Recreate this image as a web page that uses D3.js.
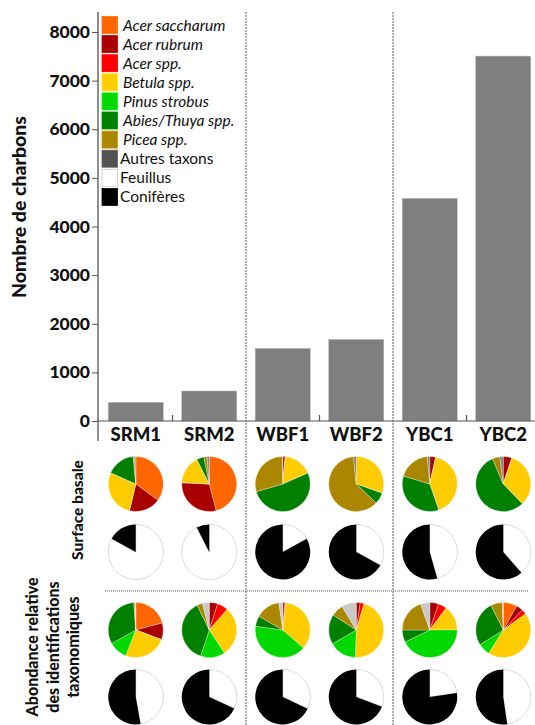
<!DOCTYPE html>
<html lang="fr">
<head>
<meta charset="utf-8">
<script src="https://cdn.jsdelivr.net/npm/d3@7"></script>
<style>
  html, body { margin: 0; padding: 0; background: #fff; }
  svg { display: block; font-family: Lato, "Open Sans", sans-serif; }
</style>
</head>
<body>
<svg id="chart" width="535" height="725"></svg>
<script>
// Sites and total charcoal counts
const sites = ["SRM1", "SRM2", "WBF1", "WBF2", "YBC1", "YBC2"];
const charcoalCounts = [385, 617, 1495, 1680, 4580, 7505];
const yTicks = [0, 1000, 2000, 3000, 4000, 5000, 6000, 7000, 8000];

// Taxa (legend order, also slice order in the pies)
const taxa = ["Acer saccharum", "Acer rubrum", "Acer spp.", "Betula spp.",
              "Pinus strobus", "Abies/Thuya spp.", "Picea spp.", "Autres taxons"];
const taxaItalic = [true, true, true, true, true, true, true, false];
const taxaColors = ["#ff6600", "#a80000", "#ff0000", "#ffcc00",
                    "#00d800", "#008000", "#ab8700", "#525252"];
const groups = ["Feuillus", "Conifères"];
const groupColors = ["#ffffff", "#000000"];

// Basal area (%) per taxon, one row per site
const basalTaxa = [
  [35.0, 18.7, 0.0, 28.0, 0.0, 16.8, 0.8, 0.7],
  [46.0, 29.8, 0.0, 16.8, 0.0, 4.3, 1.8, 1.3],
  [0.0, 1.5, 0.0, 17.0, 0.0, 52.0, 29.3, 0.2],
  [0.0, 0.0, 0.0, 30.4, 0.0, 6.8, 61.2, 1.6],
  [0.0, 3.5, 0.0, 41.2, 0.0, 35.0, 18.9, 1.4],
  [0.0, 5.1, 0.0, 32.7, 0.0, 55.8, 4.4, 2.0]
];
// Basal area (%) hardwoods / conifers
const basalHardwood = [83.0, 92.5, 17.0, 33.0, 45.6, 38.5];
const basalConifer  = [17.0, 7.5, 83.0, 67.0, 54.4, 61.5];

// Relative abundance (%) of taxonomic identifications
const abundanceTaxa = [
  [20.9, 9.8, 0.0, 25.2, 11.0, 32.0, 0.6, 0.5],
  [0.0, 5.0, 6.3, 29.4, 14.4, 37.7, 3.2, 4.0],
  [0.0, 1.2, 0.5, 34.7, 40.8, 6.2, 14.4, 2.2],
  [0.0, 2.3, 2.3, 45.9, 16.1, 17.6, 7.2, 8.6],
  [0.0, 5.2, 5.0, 14.8, 42.8, 7.2, 19.6, 5.4],
  [8.2, 3.9, 2.9, 43.9, 7.1, 26.7, 6.8, 0.5]
];
const abundanceHardwood = [47.2, 31.8, 32.0, 30.8, 22.7, 47.7];
const abundanceConifer  = [52.8, 68.2, 68.0, 69.2, 77.3, 52.3];

// Shade of the "Autres taxons" slices in each pie row
const otherShadeBasal = "#808080";
const otherShadeAbundance = "#c8c8c8";

const svg = d3.select("#chart");

const x = d3.scaleBand().domain(sites).range([99, 540])
  .paddingInner(0.25).paddingOuter(0.125);
const y = d3.scaleLinear().domain([0, 8000]).range([421, 32]);
const step = x.step();
const gap = step * 0.25;

// Group separators (between site pairs)
const separators = [x("WBF1") - gap / 2, x("YBC1") - gap / 2];
svg.append("g").selectAll("line").data(separators).join("line")
  .attr("x1", d => d).attr("x2", d => d)
  .attr("y1", 12).attr("y2", 725)
  .attr("stroke", "#5a5a5a").attr("stroke-width", 1)
  .attr("stroke-dasharray", "2,1");

// Bars
svg.append("g").selectAll("rect").data(sites).join("rect")
  .attr("x", d => x(d))
  .attr("width", x.bandwidth())
  .attr("y", (d, i) => y(charcoalCounts[i]))
  .attr("height", (d, i) => y(0) - y(charcoalCounts[i]))
  .attr("fill", "#7f7f7f")
  .attr("stroke", "#bdbdbd").attr("stroke-width", 0.5);

// Y axis
const yAxis = svg.append("g").attr("transform", "translate(98,0)")
  .call(d3.axisLeft(y).tickValues(yTicks).tickSize(6).tickPadding(2).tickFormat(d3.format("d")));
yAxis.select(".domain").remove();
yAxis.selectAll(".tick line").attr("stroke", "#555");
yAxis.selectAll(".tick text")
  .attr("font-family", "Lato, sans-serif")
  .attr("font-size", 17.5).attr("font-weight", 900).attr("fill", "#111");
svg.append("line").attr("x1", 98).attr("x2", 98).attr("y1", 12).attr("y2", 441)
  .attr("stroke", "#444").attr("stroke-width", 1.2);

// X axis baseline with ticks between paired sites
svg.append("line").attr("x1", 98).attr("x2", 535).attr("y1", y(0)).attr("y2", y(0))
  .attr("stroke", "#555").attr("stroke-width", 1.2);
const pairTicks = ["SRM2", "WBF2", "YBC2"].map(s => x(s) - gap / 2);
svg.append("g").selectAll("line").data(pairTicks).join("line")
  .attr("x1", d => d).attr("x2", d => d)
  .attr("y1", y(0) - 6).attr("y2", y(0))
  .attr("stroke", "#555").attr("stroke-width", 1.2);

// Site labels
svg.append("g").selectAll("text").data(sites).join("text")
  .attr("x", d => x(d) + x.bandwidth() / 2)
  .attr("y", 441)
  .attr("text-anchor", "middle")
  .attr("font-size", 18.5).attr("font-weight", 900).attr("fill", "#111")
  .text(d => d);

// Y axis title
svg.append("text")
  .attr("transform", "translate(26,207) rotate(-90)")
  .attr("text-anchor", "middle")
  .attr("font-size", 19.5).attr("font-weight", 900).attr("fill", "#111")
  .text("Nombre de charbons");

// Legend
const legendItems = taxa.map((t, i) => ({ name: t, color: taxaColors[i], italic: taxaItalic[i] }))
  .concat(groups.map((g, i) => ({ name: g, color: groupColors[i], italic: false })));
const legend = svg.append("g");
const lg = legend.selectAll("g").data(legendItems).join("g")
  .attr("transform", (d, i) => `translate(102,${25 + i * 19.1})`);
lg.append("rect")
  .attr("x", 0).attr("y", -8.5).attr("width", 15.5).attr("height", 17)
  .attr("fill", d => d.color)
  .attr("stroke", d => d.color === "#ffffff" ? "#c8c8c8" : d3.color(d.color).brighter(0.4))
  .attr("stroke-width", 0.8);
lg.append("text")
  .attr("x", d => d.italic ? 21 : 18).attr("y", 5.5)
  .attr("font-size", 15.5)
  .attr("font-style", d => d.italic ? "italic" : "normal")
  .attr("fill", "#111")
  .text(d => d.name);

// Pie rows
const radius = 27.5;
const pie = d3.pie().sort(null).value(d => d.value);
const arc = d3.arc().innerRadius(0).outerRadius(radius);

function drawTaxaRow(rows, cy, otherShade) {
  sites.forEach((s, i) => {
    const data = rows[i].map((v, k) => ({
      value: v,
      color: k === taxa.length - 1 ? otherShade : taxaColors[k]
    }));
    const g = svg.append("g")
      .attr("transform", `translate(${x(s) + x.bandwidth() / 2},${cy})`);
    g.selectAll("path").data(pie(data)).join("path")
      .attr("d", arc)
      .attr("fill", d => d.data.color)
      .attr("stroke", "#ffffff").attr("stroke-width", 0.3);
  });
}

function drawGroupRow(hardwood, conifer, cy) {
  sites.forEach((s, i) => {
    const data = [
      { value: hardwood[i], color: groupColors[0] },
      { value: conifer[i], color: groupColors[1] }
    ];
    const g = svg.append("g")
      .attr("transform", `translate(${x(s) + x.bandwidth() / 2},${cy})`);
    g.selectAll("path").data(pie(data)).join("path")
      .attr("d", arc)
      .attr("fill", d => d.data.color)
      .attr("stroke", d => d.data.color === "#ffffff" ? "#b5b5b5" : "none")
      .attr("stroke-width", 0.8)
      .attr("stroke-dasharray", d => d.data.color === "#ffffff" ? "1.5,0.8" : null);
  });
}

drawTaxaRow(basalTaxa, 484, otherShadeBasal);
drawGroupRow(basalHardwood, basalConifer, 552);
drawTaxaRow(abundanceTaxa, 630, otherShadeAbundance);
drawGroupRow(abundanceHardwood, abundanceConifer, 697);

// Dotted rule between the two pie blocks
svg.append("line").attr("x1", 105).attr("x2", 529).attr("y1", 591).attr("y2", 591)
  .attr("stroke", "#8a8a8a").attr("stroke-width", 1.3).attr("stroke-dasharray", "1,1");

// Row titles
svg.append("text")
  .attr("transform", "translate(83,510) rotate(-90)")
  .attr("text-anchor", "middle")
  .attr("font-size", 15.5).attr("font-weight", 900).attr("fill", "#111")
  .text("Surface basale");

const abLines = ["Abondance relative", "des identifications", "taxonomiques"];
svg.append("g").selectAll("text").data(abLines).join("text")
  .attr("transform", (d, i) => `translate(${38 + i * 20.5},647) rotate(-90)`)
  .attr("text-anchor", "middle")
  .attr("font-size", 16).attr("font-weight", 900).attr("fill", "#111")
  .text(d => d);
</script>
</body>
</html>
